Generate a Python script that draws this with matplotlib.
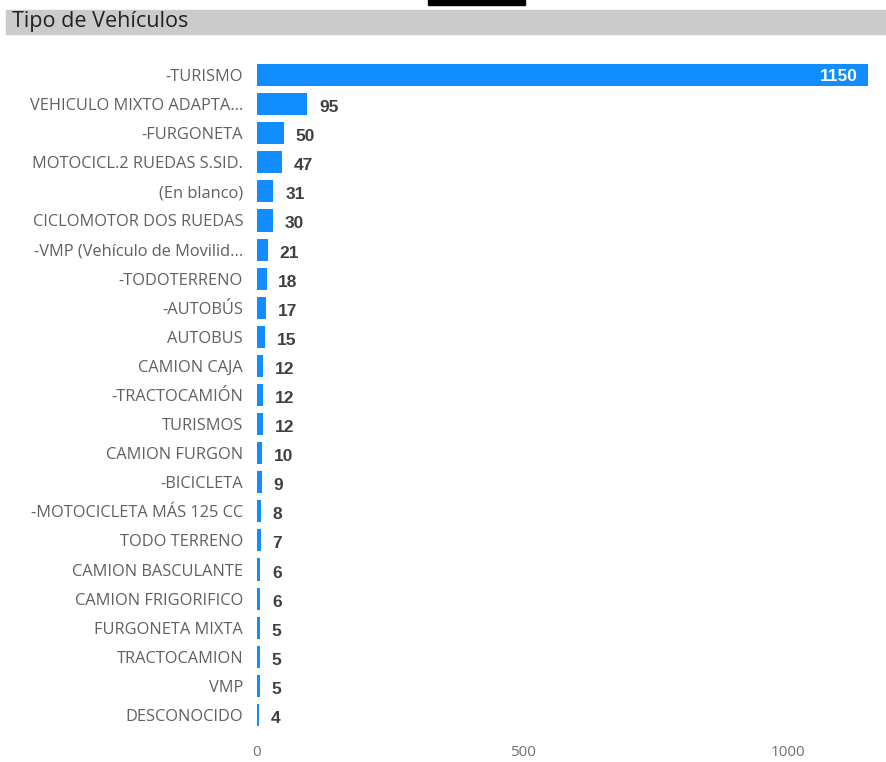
import matplotlib.pyplot as plt
from matplotlib.patches import Rectangle

# data
categories = ['-TURISMO', 'VEHICULO MIXTO ADAPTA...', '-FURGONETA', 'MOTOCICL.2 RUEDAS S.SID.',
              '(En blanco)', 'CICLOMOTOR DOS RUEDAS', '-VMP (Vehículo de Movilid...', '-TODOTERRENO',
              '-AUTOBÚS', 'AUTOBUS', 'CAMION CAJA', '-TRACTOCAMIÓN', 'TURISMOS', 'CAMION FURGON',
              '-BICICLETA', '-MOTOCICLETA MÁS 125 CC', 'TODO TERRENO', 'CAMION BASCULANTE',
              'CAMION FRIGORIFICO', 'FURGONETA MIXTA', 'TRACTOCAMION', 'VMP', 'DESCONOCIDO']
values = [1150, 95, 50, 47, 31, 30, 21, 18, 17, 15, 12, 12, 12, 10, 9, 8, 7, 6, 6, 5, 5, 5, 4]
xticks = [0, 500, 1000]

W, H = 886, 762
fig = plt.figure(figsize=(W / 100, H / 100), dpi=100, facecolor='white')

# header band + title
fig.patches.append(Rectangle((6 / W, 1 - 34 / H), 1 - 6 / W, 24 / H, transform=fig.transFigure,
                             color='#cbcbcb', zorder=0))
fig.patches.append(Rectangle((428 / W, 1 - 5 / H), 97 / W, 5 / H, transform=fig.transFigure,
                             color='black', zorder=0))
fig.text(12 / W, 1 - 22 / H, 'Tipo de Vehículos', fontsize=15.5, color='#222222',
         family='Open Sans', ha='left', va='center')

ax = fig.add_axes([257 / W, 1 - 729.5 / H, (868 - 257) / W, (729.5 - 60.5) / H])
y = list(range(len(categories)))
ax.barh(y, values, height=0.76, color='#118DFF')
ax.set_ylim(len(categories) - 0.5, -0.5)
ax.set_xlim(0, 1150)

ax.set_yticks(y)
ax.set_yticklabels(categories, fontsize=11.8, color='#606060', family='Open Sans')
ax.tick_params(axis='y', length=0, pad=10)
ax.set_xticks(xticks)
ax.set_xticklabels([str(t) for t in xticks], fontsize=11, color='#707070', family='Open Sans')
ax.tick_params(axis='x', length=0, pad=11)
for s in ax.spines.values():
    s.set_visible(False)

# value labels
for yi, v in zip(y, values):
    if v > 1000:
        ax.text(v - 20, yi + 0.05, str(v), ha='right', va='center', fontsize=12.5,
                fontweight='bold', color='white', family='Liberation Sans')
    else:
        ax.text(v + 22, yi + 0.12, str(v), ha='left', va='center', fontsize=12.5,
                fontweight='bold', color='#404040', family='Liberation Sans')

plt.savefig('out.png', dpi=100, facecolor='white')
